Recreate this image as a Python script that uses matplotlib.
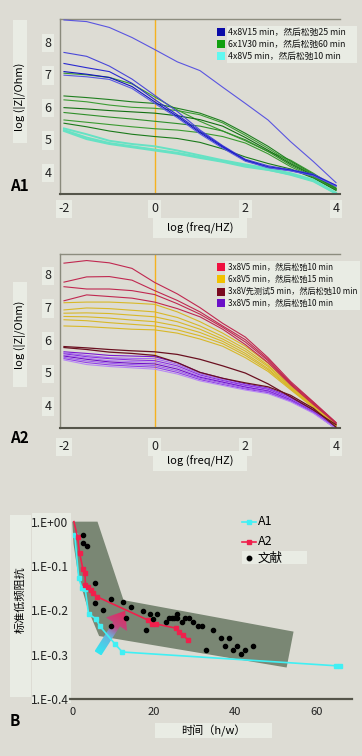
import numpy as np
import matplotlib
matplotlib.use('Agg')
import matplotlib.pyplot as plt
from matplotlib.patches import Rectangle, Polygon
from matplotlib.lines import Line2D
from matplotlib.colors import LinearSegmentedColormap

# 中文字体 + 西文回退
plt.rcParams['font.family'] = ['Noto Sans CJK SC', 'DejaVu Sans']
plt.rcParams['axes.unicode_minus'] = False

W, H = 362, 756
BG = '#dddcd4'
BOX = '#e9ece4'

# ---------------- 数据 ----------------
LOGF = [-2, -1.5, -1, -0.5, 0, 0.5, 1, 1.5, 2, 2.5, 3, 3.5, 4]
A_XTICKS = [-2, 0, 2, 4]
A_YTICKS = [4, 5, 6, 7, 8]

# A1: 4x8V15 min
A1_BLUE = [
    [8.67, 8.62, 8.44, 8.13, 7.76, 7.38, 7.11, 6.60, 6.10, 5.59, 4.92, 4.31, 3.66],
    [7.67, 7.55, 7.25, 6.85, 6.35, 5.85, 5.28, 4.80, 4.38, 4.18, 4.06, 3.92, 3.58],
    [7.33, 7.20, 7.08, 6.72, 6.22, 5.75, 5.24, 4.78, 4.36, 4.15, 4.05, 3.90, 3.57],
    [7.08, 7.00, 6.90, 6.62, 6.15, 5.70, 5.20, 4.75, 4.34, 4.13, 4.03, 3.88, 3.56],
    [6.97, 6.92, 6.84, 6.56, 6.10, 5.66, 5.16, 4.72, 4.32, 4.12, 4.02, 3.87, 3.55],
]
A1_BLUE_COLORS = ['#5a55e0', '#4a48d8', '#2a2ad0', '#1212c0', '#5858e2']
# A1: 6x1V30 min
A1_GREEN = [
    [7.03, 6.98, 6.90, 6.70, 6.30, 5.90, 5.55, 5.25, 4.95, 4.62, 4.35, 3.95, 3.50],
    [6.33, 6.28, 6.22, 6.15, 6.10, 5.95, 5.80, 5.55, 5.18, 4.78, 4.32, 3.92, 3.48],
    [6.21, 6.15, 6.05, 5.98, 5.95, 5.88, 5.75, 5.50, 5.12, 4.72, 4.28, 3.90, 3.47],
    [5.97, 5.93, 5.88, 5.84, 5.80, 5.72, 5.60, 5.40, 5.05, 4.66, 4.24, 3.88, 3.46],
    [5.82, 5.75, 5.68, 5.62, 5.55, 5.48, 5.40, 5.25, 4.98, 4.62, 4.20, 3.85, 3.45],
    [5.59, 5.52, 5.45, 5.38, 5.32, 5.28, 5.20, 5.08, 4.88, 4.55, 4.15, 3.82, 3.44],
    [5.49, 5.38, 5.25, 5.15, 5.08, 5.02, 4.90, 4.70, 4.45, 4.25, 4.08, 3.80, 3.42],
]
A1_GREEN_COLORS = ['#3a9a30', '#1f7f1f', '#3c9c34', '#127012', '#2f8f2a', '#3a9a30', '#1a7a1a']
# A1: 4x8V5 min
A1_CYAN = [
    [5.33, 5.15, 4.95, 4.85, 4.78, 4.65, 4.50, 4.35, 4.22, 4.10, 3.95, 3.75, 3.35],
    [5.28, 5.05, 4.88, 4.78, 4.68, 4.58, 4.45, 4.32, 4.18, 4.06, 3.90, 3.70, 3.32],
    [5.25, 5.00, 4.85, 4.75, 4.65, 4.55, 4.42, 4.30, 4.15, 4.05, 3.92, 3.72, 3.33],
]
A1_LEGEND = ['4x8V15 min，然后松弛25 min', '6x1V30 min，然后松弛60 min', '4x8V5 min，然后松弛10 min']
A1_LEGEND_COLORS = ['#0a0aa8', '#10a010', '#60f8f0']

# A2
A2_RED = [
    [8.34, 8.42, 8.35, 8.18, 7.75, 7.40, 6.98, 6.50, 6.08, 5.45, 4.72, 4.10, 3.47],
    [7.76, 7.92, 7.93, 7.82, 7.50, 7.20, 6.85, 6.42, 6.00, 5.40, 4.68, 4.08, 3.46],
    [7.62, 7.55, 7.55, 7.50, 7.38, 7.10, 6.78, 6.38, 5.93, 5.36, 4.65, 4.05, 3.45],
    [7.19, 7.37, 7.32, 7.27, 7.15, 6.95, 6.70, 6.32, 5.85, 5.30, 4.62, 4.02, 3.44],
]
A2_YELLOW = [
    [7.13, 7.15, 7.15, 7.12, 7.08, 6.85, 6.55, 6.20, 5.80, 5.28, 4.62, 4.00, 3.40],
    [6.91, 6.97, 6.95, 6.90, 6.85, 6.68, 6.42, 6.10, 5.72, 5.22, 4.58, 3.98, 3.40],
    [6.81, 6.82, 6.80, 6.75, 6.70, 6.55, 6.32, 6.02, 5.65, 5.18, 4.55, 3.97, 3.39],
    [6.71, 6.70, 6.66, 6.60, 6.55, 6.42, 6.22, 5.95, 5.58, 5.12, 4.52, 3.95, 3.38],
    [6.61, 6.58, 6.52, 6.47, 6.42, 6.30, 6.12, 5.88, 5.52, 5.08, 4.50, 3.93, 3.38],
    [6.42, 6.40, 6.36, 6.32, 6.30, 6.20, 6.02, 5.80, 5.45, 5.03, 4.47, 3.92, 3.37],
]
A2_BROWN = [
    [5.79, 5.75, 5.70, 5.66, 5.63, 5.55, 5.40, 5.20, 4.98, 4.65, 4.25, 3.85, 3.40],
    [5.76, 5.70, 5.62, 5.58, 5.52, 5.30, 5.00, 4.82, 4.68, 4.56, 4.30, 3.90, 3.33],
]
A2_PURPLE = [
    [5.63, 5.58, 5.52, 5.50, 5.48, 5.30, 5.00, 4.82, 4.65, 4.52, 4.25, 3.85, 3.30],
    [5.60, 5.52, 5.45, 5.43, 5.42, 5.25, 4.96, 4.78, 4.62, 4.50, 4.22, 3.83, 3.30],
    [5.57, 5.48, 5.42, 5.38, 5.36, 5.20, 4.92, 4.75, 4.60, 4.48, 4.20, 3.82, 3.30],
    [5.53, 5.44, 5.36, 5.33, 5.31, 5.15, 4.88, 4.72, 4.57, 4.45, 4.18, 3.80, 3.29],
    [5.50, 5.40, 5.32, 5.28, 5.26, 5.10, 4.85, 4.70, 4.55, 4.43, 4.16, 3.79, 3.29],
    [5.46, 5.35, 5.28, 5.24, 5.21, 5.05, 4.82, 4.67, 4.52, 4.41, 4.14, 3.78, 3.28],
    [5.42, 5.30, 5.23, 5.19, 5.16, 5.00, 4.78, 4.63, 4.49, 4.38, 4.12, 3.77, 3.28],
    [5.38, 5.24, 5.18, 5.14, 5.10, 4.95, 4.74, 4.60, 4.46, 4.35, 4.10, 3.75, 3.28],
]
A2_PURPLE_COLORS = ['#7a18d0', '#a468f0', '#8a30e0', '#b07af2', '#7010c8', '#a060ee', '#9040e8', '#b888f4']
A2_LEGEND = ['3x8V5 min，然后松弛10 min', '6x8V5 min，然后松弛15 min',
             '3x8V先测试5 min，然后松弛10 min', '3x8V5 min，然后松弛10 min']
A2_LEGEND_COLORS = ['#f01040', '#f2c200', '#7a0a20', '#6a10c8']

# B: 标准低频阻抗 vs 时间
B_A1_T = [0.5, 1.5, 2.3, 3.1, 3.9, 5.7, 6.7, 10.4, 12.2, 64.7, 65.7]
B_A1_Z = [-0.03, -0.128, -0.150, -0.153, -0.208, -0.219, -0.236, -0.276, -0.294, -0.325, -0.325]
B_A2_T = [0.3, 1.2, 1.7, 2.5, 3.0, 3.15, 3.7, 4.4, 5.1, 5.9, 18.5, 19.6, 20.6, 25.3, 26.2, 27.2, 28.3]
B_A2_Z = [0.0, -0.035, -0.071, -0.106, -0.116, -0.142, -0.148, -0.154, -0.160, -0.169,
          -0.222, -0.231, -0.231, -0.240, -0.248, -0.256, -0.267]
B_LIT_T = [2.5, 2.5, 3.6, 5.5, 5.5, 7.4, 9.3, 9.3, 12.3, 13.1, 14.3, 17.2, 18.0, 19.0, 19.8,
           20.8, 23.0, 23.8, 24.3, 24.9, 25.6, 25.7, 26.8, 27.6, 28.7, 29.7, 30.7, 31.7,
           32.7, 34.6, 36.4, 37.5, 38.4, 39.5, 40.3, 41.3, 42.4, 44.3]
B_LIT_Z = [-0.030, -0.049, -0.056, -0.138, -0.183, -0.199, -0.174, -0.235, -0.182, -0.218,
           -0.192, -0.201, -0.244, -0.209, -0.219, -0.209, -0.226, -0.218, -0.218, -0.218,
           -0.209, -0.217, -0.226, -0.218, -0.218, -0.226, -0.235, -0.235, -0.289, -0.244,
           -0.262, -0.280, -0.262, -0.289, -0.280, -0.298, -0.289, -0.280]
B_BAND_T = [-0.1, 6.1, 12.5, 54.3, 52.6, 6.5, 3.8, 1.4, 0.2]
B_BAND_Z = [0.0, 0.0, -0.177, -0.248, -0.329, -0.258, -0.199, -0.124, -0.05]
B_XTICKS = [0, 20, 40, 60]
B_YTICKS = [0, -0.1, -0.2, -0.3, -0.4]
B_YTICKLABELS = ['1.E+00', '1.E-0.1', '1.E-0.2', '1.E-0.3', '1.E-0.4']
ARROW_TAIL = (6.2, -0.297)
ARROW_HEAD = (12.9, -0.201)


# ---------------- 工具 ----------------
def rect(l, t, r, b):
    return [l / W, 1 - b / H, (r - l) / W, (b - t) / H]


def fig_box(fig, x0, y0, x1, y1, color=BOX):
    fig.add_artist(Rectangle((x0 / W, 1 - y1 / H), (x1 - x0) / W, (y1 - y0) / H,
                             transform=fig.transFigure, fc=color, ec='none', zorder=0))


def fig_text(fig, x, y, s, **kw):
    return fig.text(x / W, 1 - y / H, s, **kw)


def setup_a(ax, ylim, xpad):
    ax.set_facecolor('none')
    ax.set_xlim(-2.088, 4.088)
    ax.set_ylim(*ylim)
    ax.set_xticks(A_XTICKS)
    ax.set_yticks(A_YTICKS)
    ax.tick_params(length=0, labelsize=9, colors='#222222')
    ax.tick_params(axis='x', pad=xpad)
    ax.tick_params(axis='y', pad=6)
    ax.spines['right'].set_visible(False)
    ax.spines['top'].set_color('#8c8c7e')
    ax.spines['top'].set_linewidth(1.0)
    ax.spines['left'].set_color('#8a8a7c')
    ax.spines['left'].set_linewidth(1.0)
    ax.spines['bottom'].set_color('#55554a')
    ax.spines['bottom'].set_linewidth(1.5)
    for t in ax.get_xticklabels() + ax.get_yticklabels():
        t.set_bbox(dict(boxstyle='square,pad=0.22', fc=BOX, ec='none'))
    ax.axvline(0, color='#f5b21f', lw=1.0, zorder=1)


def legend_rows(fig, labels, colors, ys, box, fs):
    fig_box(fig, *box)
    for lab, col, y in zip(labels, colors, ys):
        fig.add_artist(Rectangle((217 / W, 1 - (y + 4) / H), 8 / W, 8 / H,
                                 transform=fig.transFigure, fc=col, ec='none', zorder=2))
        fig_text(fig, 228, y, lab, fontsize=fs, va='center', ha='left', color='#111111')


fig = plt.figure(figsize=(W / 100, H / 100), dpi=100, facecolor=BG)

# ---------------- A1 ----------------
ax1 = fig.add_axes(rect(60, 19, 340, 194))
setup_a(ax1, (3.31, 8.70), 6)
for ys, c in zip(A1_GREEN, A1_GREEN_COLORS):
    ax1.plot(LOGF, ys, color=c, lw=0.8, zorder=2)
for ys in A1_CYAN:
    ax1.plot(LOGF, ys, color='#66e2c4', lw=1.4, zorder=2)
for ys, c in zip(A1_BLUE, A1_BLUE_COLORS):
    ax1.plot(LOGF, ys, color=c, lw=0.8, zorder=3)
legend_rows(fig, A1_LEGEND, A1_LEGEND_COLORS, [32.3, 44.0, 56.0], (227, 26, 357, 63), 6.3)
fig_box(fig, 13, 20, 27, 143)
fig_text(fig, 20, 97, 'log (|Z|/Ohm)', rotation=90, fontsize=8, ha='center', va='center')
fig_box(fig, 153, 218, 247, 238)
fig_text(fig, 200, 228, 'log (freq/HZ)', fontsize=8, ha='center', va='center')
fig_text(fig, 19, 186, 'A1', fontsize=11, fontweight='bold', ha='center', va='center')

# ---------------- A2 ----------------
ax2 = fig.add_axes(rect(60, 254, 340, 428))
setup_a(ax2, (3.30, 8.62), 9)
for ys in A2_YELLOW:
    ax2.plot(LOGF, ys, color='#d8b828', lw=0.8, zorder=2)
for ys in A2_RED:
    ax2.plot(LOGF, ys, color='#c02850', lw=0.8, zorder=3)
for ys, c in zip(A2_PURPLE, A2_PURPLE_COLORS):
    ax2.plot(LOGF, ys, color=c, lw=0.8, zorder=2)
for ys in A2_BROWN:
    ax2.plot(LOGF, ys, color='#6a1020', lw=0.9, zorder=3)
legend_rows(fig, A2_LEGEND, A2_LEGEND_COLORS, [267.3, 279.3, 291.7, 303.3], (225, 261, 360, 310), 5.85)
fig_box(fig, 13, 282, 27, 387)
fig_text(fig, 20, 335, 'log (|Z|/Ohm)', rotation=90, fontsize=8, ha='center', va='center')
fig_box(fig, 153, 451, 247, 471)
fig_text(fig, 200, 461, 'log (freq/HZ)', fontsize=8, ha='center', va='center')
fig_text(fig, 19, 438, 'A2', fontsize=11, fontweight='bold', ha='center', va='center')

# ---------------- B ----------------
fig_box(fig, 32, 513, 71, 703)
axb = fig.add_axes(rect(70, 515, 352, 699))
axb.set_facecolor('none')
axb.set_xlim(-0.66, 68.67)
axb.set_ylim(-0.4, 0.015)
axb.set_xticks(B_XTICKS)
axb.set_yticks(B_YTICKS)
axb.set_yticklabels(B_YTICKLABELS)
axb.tick_params(length=0, labelsize=8, colors='#222222')
axb.tick_params(axis='y', labelsize=8.6, pad=1)
axb.tick_params(axis='x', pad=6)
for s in ['left', 'right', 'top']:
    axb.spines[s].set_visible(False)
axb.spines['bottom'].set_color('#55554a')
axb.spines['bottom'].set_linewidth(1.6)

axb.fill(B_BAND_T, B_BAND_Z, color='#7a8774', ec='none', zorder=1)

# 渐变箭头 (青 -> 红)，在像素空间构造形状
p0 = axb.transData.transform(ARROW_TAIL)
p1 = axb.transData.transform(ARROW_HEAD)
d = p1 - p0
L = np.hypot(*d)
u = d / L
n = np.array([-u[1], u[0]])
sw, hw, hl = 8.0, 25.0, 16.0
base = p0 + (L - hl) * u
verts = np.array([p0 + n * sw / 2, base + n * sw / 2, base + n * hw / 2, p1,
                  base - n * hw / 2, base - n * sw / 2, p0 - n * sw / 2])
dverts = axb.transData.inverted().transform(verts)
poly = Polygon(dverts, closed=True, fc='none', ec='none', transform=axb.transData)
axb.add_patch(poly)
x0, y0 = dverts.min(axis=0)
x1, y1 = dverts.max(axis=0)
gx, gy = np.meshgrid(np.linspace(x0, x1, 140), np.linspace(y0, y1, 140))
pix = axb.transData.transform(np.column_stack([gx.ravel(), gy.ravel()]))
t = np.clip(((pix - p0) @ u) / L, 0, 1).reshape(gx.shape)
cmap = LinearSegmentedColormap.from_list(
    'arr', [(0, '#30e8f2'), (0.4, '#6ab0dc'), (0.62, '#c04880'), (1, '#e22a5c')])
im = axb.imshow(t, extent=[x0, x1, y0, y1], origin='lower', cmap=cmap, aspect='auto',
                zorder=2, interpolation='bilinear')
im.set_clip_path(poly)
axb.set_xlim(-0.66, 68.67)
axb.set_ylim(-0.4, 0.015)

axb.plot(B_A1_T, B_A1_Z, color='#40f0f4', lw=1.2, marker='s', ms=2.5, mec='#40f0f4', zorder=3)
axb.plot(B_A2_T, B_A2_Z, color='#f0204c', lw=1.2, marker='s', ms=3,
         markevery=list(range(1, len(B_A2_T))), zorder=4)
axb.scatter(B_LIT_T, B_LIT_Z, s=9, color='black', marker='o', zorder=5)

# 图例
fig_box(fig, 242, 551, 307, 564)
for y, c, lab in [(521.7, '#40f0f4', 'A1'), (541.7, '#f0204c', 'A2')]:
    fig.add_artist(Line2D([242 / W, 249 / W, 256 / W], [1 - y / H] * 3, transform=fig.transFigure,
                          color=c, lw=1.2, marker='s', ms=3, markevery=[1]))
    fig_text(fig, 258, y, lab, fontsize=9, va='center', ha='left')
fig.add_artist(Line2D([249 / W], [1 - 558.3 / H], transform=fig.transFigure, color='black',
                      marker='o', ms=3.2, lw=0))
fig_text(fig, 258, 558.3, '文献', fontsize=9, va='center', ha='left')

fig_box(fig, 10, 515, 31, 697)
fig_text(fig, 20, 600, '标准低频阻抗', rotation=90, fontsize=8, ha='center', va='center')
fig_box(fig, 155, 723, 272, 738)
fig_text(fig, 213, 731, '时间（h/w）', fontsize=8, ha='center', va='center')
fig_text(fig, 15, 721, 'B', fontsize=11, fontweight='bold', ha='center', va='center')

fig.savefig('out.png', dpi=100, facecolor=BG)
